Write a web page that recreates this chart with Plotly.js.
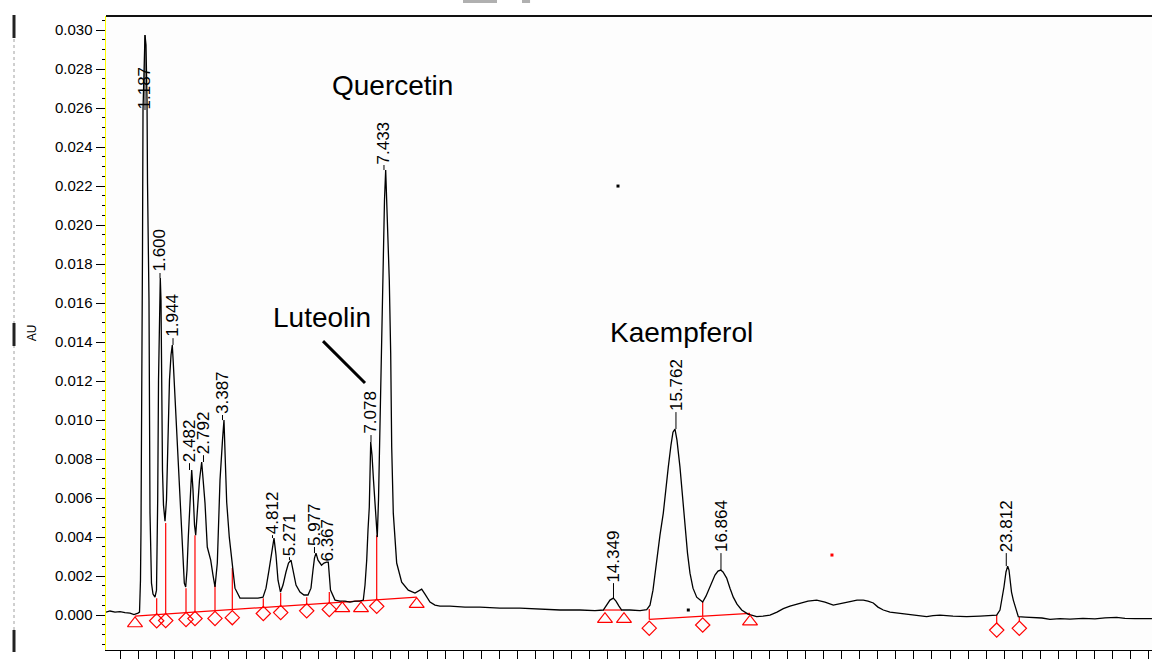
<!DOCTYPE html>
<html><head><meta charset="utf-8">
<script src="https://cdn.plot.ly/plotly-3.0.1.min.js"></script>
<style>html,body{margin:0;padding:0;background:#fff}</style>
</head><body><div id="chart" style="width:1152px;height:663px"></div>
<script>
// Chromatogram trace (time in min, absorbance in AU)
const timeMin = [0.100,0.211,0.350,0.488,0.627,0.765,0.876,0.932,0.987,1.029,1.056,1.070,1.084,1.098,1.112,1.126,1.154,1.181,1.209,1.237,1.251,1.292,1.320,1.361,1.403,1.458,1.500,1.514,1.533,1.556,1.583,1.605,1.625,1.644,1.666,1.694,1.736,1.777,1.819,1.860,1.902,1.938,1.966,2.013,2.060,2.124,2.199,2.271,2.310,2.346,2.382,2.429,2.476,2.512,2.554,2.587,2.637,2.692,2.753,2.798,2.845,2.908,3.003,3.066,3.122,3.186,3.261,3.330,3.371,3.407,3.446,3.518,3.602,3.676,3.815,4.092,4.314,4.453,4.536,4.619,4.702,4.758,4.813,4.869,4.938,5.007,5.090,5.160,5.229,5.284,5.368,5.478,5.589,5.700,5.783,5.839,5.880,5.922,5.978,6.075,6.144,6.213,6.263,6.324,6.449,6.587,6.726,6.865,7.003,7.142,7.233,7.281,7.328,7.364,7.400,7.439,7.475,7.516,7.558,7.621,7.655,7.696,7.724,7.744,7.788,7.821,7.854,7.904,7.954,7.993,8.021,8.065,8.159,8.298,8.481,8.667,8.852,8.944,9.083,9.221,9.360,9.637,10.053,10.469,11.023,11.578,12.132,12.687,13.241,13.657,13.887,13.990,14.073,14.165,14.239,14.322,14.397,14.627,14.905,15.091,15.182,15.265,15.368,15.459,15.551,15.625,15.689,15.764,15.819,15.875,15.930,16.013,16.083,16.152,16.222,16.291,16.374,16.477,16.568,16.643,16.734,16.845,16.984,17.067,17.142,17.206,17.308,17.400,17.491,17.594,17.724,17.899,18.140,18.315,18.509,18.703,18.878,19.063,19.340,19.562,19.803,20.034,20.264,20.505,20.727,20.921,21.096,21.226,21.373,21.503,21.650,21.836,22.113,22.473,22.853,23.028,23.222,23.582,23.962,24.331,24.608,24.794,24.885,24.941,24.996,25.052,25.099,25.135,25.163,25.205,25.255,25.329,25.393,25.579,25.800,26.050,26.271,26.549,26.826,27.186,27.519,27.796,28.120,28.351,28.628,28.905,29.099];
const absorbanceAU = [0.00015,0.00021,0.00015,0.00018,0.00013,0.00010,0.00003,0.00005,0.00010,0.00015,0.00179,0.00436,0.00846,0.01138,0.01872,0.02590,0.02846,0.02974,0.02923,0.02641,0.02215,0.01615,0.00523,0.00164,0.00108,0.00092,0.00128,0.00282,0.00590,0.01205,0.01692,0.01728,0.01615,0.01103,0.00744,0.00564,0.00482,0.00590,0.00846,0.01205,0.01333,0.01385,0.01292,0.01128,0.00964,0.00744,0.00436,0.00164,0.00144,0.00231,0.00400,0.00615,0.00744,0.00641,0.00462,0.00410,0.00538,0.00692,0.00785,0.00692,0.00574,0.00349,0.00282,0.00205,0.00144,0.00267,0.00692,0.00897,0.01000,0.00795,0.00579,0.00400,0.00241,0.00138,0.00087,0.00087,0.00087,0.00092,0.00138,0.00231,0.00344,0.00395,0.00308,0.00179,0.00118,0.00154,0.00221,0.00267,0.00282,0.00231,0.00154,0.00118,0.00103,0.00103,0.00138,0.00231,0.00292,0.00318,0.00282,0.00256,0.00267,0.00272,0.00272,0.00128,0.00077,0.00072,0.00072,0.00067,0.00072,0.00072,0.00077,0.00154,0.00282,0.00436,0.00554,0.00887,0.00820,0.00692,0.00554,0.00400,0.00590,0.01000,0.01308,0.01446,0.01872,0.02128,0.02282,0.02026,0.01718,0.01344,0.00862,0.00523,0.00267,0.00169,0.00128,0.00113,0.00133,0.00108,0.00067,0.00051,0.00046,0.00046,0.00041,0.00041,0.00036,0.00036,0.00031,0.00026,0.00026,0.00023,0.00026,0.00051,0.00077,0.00087,0.00072,0.00046,0.00026,0.00026,0.00023,0.00028,0.00051,0.00128,0.00282,0.00410,0.00523,0.00667,0.00759,0.00872,0.00938,0.00954,0.00897,0.00759,0.00615,0.00451,0.00318,0.00215,0.00138,0.00092,0.00077,0.00067,0.00097,0.00144,0.00205,0.00226,0.00231,0.00221,0.00190,0.00138,0.00092,0.00056,0.00026,0.00005,-0.00008,-0.00005,0.00000,0.00015,0.00033,0.00046,0.00062,0.00072,0.00077,0.00067,0.00051,0.00062,0.00069,0.00077,0.00077,0.00072,0.00062,0.00041,0.00026,0.00015,0.00009,0.00003,-0.00008,-0.00003,0.00000,-0.00005,-0.00008,-0.00005,-0.00003,0.00000,0.00026,0.00077,0.00144,0.00221,0.00251,0.00231,0.00179,0.00118,0.00077,0.00026,-0.00008,-0.00010,-0.00012,-0.00015,-0.00022,-0.00018,-0.00021,-0.00017,-0.00019,-0.00014,-0.00012,-0.00017,-0.00018,-0.00019,-0.00018];

// Peak retention-time labels
const peakLabels  = ['1.187','1.600','1.944','2.482','2.792','3.387','4.812','5.271','5.977','6.367','7.078','7.433','14.349','15.762','16.864','23.812'];
const peakTime    = [1.181,1.597,1.958,2.415,2.803,3.330,4.716,5.187,5.880,6.255,7.447,7.807,14.170,15.902,17.150,25.060];
const peakApexAU  = [0.02974,0.01728,0.01385,0.00744,0.00785,0.01000,0.00395,0.00282,0.00318,0.00272,0.00887,0.02282,0.00087,0.00954,0.00231,0.00251];
const peakLabelAU = [0.02590,0.01754,0.01420,0.00779,0.00820,0.01026,0.00410,0.00297,0.00349,0.00267,0.00923,0.02308,0.00164,0.01041,0.00318,0.00318];

// Integration drop lines
const dropTime  = [1.505,1.755,2.318,2.567,3.122,3.602,4.461,4.943,5.664,6.291,7.605,15.162,16.643,24.794,25.421];
const dropTopAU = [0.00087,0.00472,0.00138,0.00410,0.00154,0.00241,0.00087,0.00113,0.00092,0.00118,0.00410,0.00031,0.00067,0.00000,-0.00010];
const dropBaseAU= [0.00002,0.00005,0.00012,0.00015,0.00022,0.00028,0.00040,0.00046,0.00055,0.00064,0.00080,-0.00022,-0.00006,-0.00041,-0.00033];

// Integration markers
const diamondTime = [1.505,1.755,2.318,2.567,3.122,3.602,4.461,4.943,5.664,6.291,7.605,15.162,16.643,24.794,25.421];
const diamondAU   = [-0.00029,-0.00028,-0.00023,-0.00018,-0.00017,-0.00013,0.00008,0.00013,0.00022,0.00029,0.00045,-0.00067,-0.00051,-0.00077,-0.00068];
const triangleTime = [0.904,6.651,7.170,8.714,13.934,14.461,17.955];
const triangleAU   = [-0.00043,0.00034,0.00034,0.00056,-0.00021,-0.00021,-0.00034];

// Baselines (start/end pairs)
const baseStartTime = [0.904,13.879,15.162];
const baseEndTime   = [8.714,14.406,17.955];
const baseStartAU   = [-0.00005,0.00026,-0.00022];
const baseEndAU     = [0.00092,0.00026,0.00009];

// Compound names
const compoundNames = ['Quercetin','Luteolin','Kaempferol'];
const compoundTime  = [8.043,6.089,16.055];
const compoundAU    = [0.02718,0.01528,0.01451];

// Stray specks in the scan
const speckTime = [14.295,16.244,20.227];
const speckAU   = [0.02200,0.00026,0.00308];
const speckColor= ['#000','#000','#f00'];

function segs(x0s,y0s,x1s,y1s){const X=[],Y=[];for(let i=0;i<x0s.length;i++){X.push(x0s[i],x1s[i],null);Y.push(y0s[i],y1s[i],null);}return {X,Y};}

const drops = segs(dropTime,dropTopAU,dropTime,dropBaseAU);
const bases = segs(baseStartTime,baseStartAU,baseEndTime,baseEndAU);
const ticks = segs(peakTime,peakApexAU,peakTime,peakLabelAU);

const traces = [
  {x:bases.X,y:bases.Y,mode:'lines',line:{color:'#ff0000',width:1.2},hoverinfo:'skip'},
  {x:drops.X,y:drops.Y,mode:'lines',line:{color:'#ff0000',width:1.2},hoverinfo:'skip'},
  {x:timeMin,y:absorbanceAU,mode:'lines',line:{color:'#000',width:1.3}},
  {x:ticks.X,y:ticks.Y,mode:'lines',line:{color:'#000',width:1},hoverinfo:'skip'},
  {x:diamondTime,y:diamondAU,mode:'markers',marker:{symbol:'diamond-open',size:11,color:'#ff0000',line:{width:1.2,color:'#ff0000'}}},
  {x:triangleTime,y:triangleAU,mode:'markers',marker:{symbol:'triangle-up-open',size:13,color:'#ff0000',line:{width:1.2,color:'#ff0000'}}},
  {x:speckTime,y:speckAU,mode:'markers',marker:{symbol:'square',size:3,color:speckColor}}
];

const annotations = [];
peakLabels.forEach((t,i)=>annotations.push({x:peakTime[i],y:peakLabelAU[i],text:t,textangle:-90,showarrow:false,xanchor:'center',yanchor:'bottom',borderpad:0,font:{family:'Liberation Sans, Arial, sans-serif',size:17,color:'#000'}}));
compoundNames.forEach((t,i)=>annotations.push({x:compoundTime[i],y:compoundAU[i],text:t,showarrow:false,xanchor:'center',yanchor:'middle',font:{family:'Liberation Sans, Arial, sans-serif',size:28,color:'#000'}}));

const shapes = [
  // Luteolin pointer
  {type:'line',xref:'x',yref:'y',x0:6.117,y0:0.01405,x1:7.281,y1:0.01190,line:{color:'#000',width:3}},
  // top frame
  {type:'line',xref:'paper',yref:'paper',x0:0,x1:1,y0:1,y1:1,line:{color:'#111',width:2}},
  // left scan artefacts
  {type:'line',xref:'paper',yref:'paper',x0:-0.08795,x1:-0.08795,y0:0.0315,y1:0.9653,line:{color:'#c0c0c0',width:1.5,dash:'dot'}},
  {type:'line',xref:'paper',yref:'paper',x0:-0.08795,x1:-0.08795,y0:0.9653,y1:1.0016,line:{color:'#222',width:3}},
  {type:'line',xref:'paper',yref:'paper',x0:-0.08795,x1:-0.08795,y0:0.4795,y1:0.5158,line:{color:'#222',width:3}},
  {type:'line',xref:'paper',yref:'paper',x0:-0.08795,x1:-0.08795,y0:-0.0032,y1:0.0316,line:{color:'#222',width:3}},
  // cropped title remnants
  {type:'rect',xref:'paper',yref:'paper',x0:0.3413,x1:0.3738,y0:1.0205,y1:1.0252,line:{width:0},fillcolor:'#b0b0b0'},
  {type:'rect',xref:'paper',yref:'paper',x0:0.3977,x1:0.4054,y0:1.0205,y1:1.0252,line:{width:0},fillcolor:'#b0b0b0'}
];

const layout = {
  width:1152,height:663,
  margin:{l:106,r:0,t:16,b:13,pad:0},
  paper_bgcolor:'#ffffff',plot_bgcolor:'#fdfdfd',
  showlegend:false,
  xaxis:{range:[0.1,29.1],showgrid:false,zeroline:false,showline:true,linecolor:'#000',linewidth:1,
         ticks:'outside',tick0:0,dtick:0.5,ticklen:8,tickcolor:'#000',tickwidth:1,showticklabels:false},
  yaxis:{range:[-0.00179,0.03072],showgrid:false,zeroline:false,showline:true,linecolor:'#ffff00',linewidth:1.5,
         ticks:'outside',tick0:0,dtick:0.002,ticklen:9,tickcolor:'#000',tickwidth:1,tickformat:'.3f',
         tickfont:{family:'Liberation Sans, Arial, sans-serif',size:15,color:'#000'},
         minor:{ticks:'outside',dtick:0.0005,ticklen:3,tickcolor:'#000',tickwidth:1,showgrid:false},
         title:{text:'AU',standoff:16,font:{family:'Liberation Sans, Arial, sans-serif',size:12,color:'#000'}}},
  annotations, shapes
};

Plotly.newPlot('chart',traces,layout,{displayModeBar:false,staticPlot:true});
</script></body></html>
